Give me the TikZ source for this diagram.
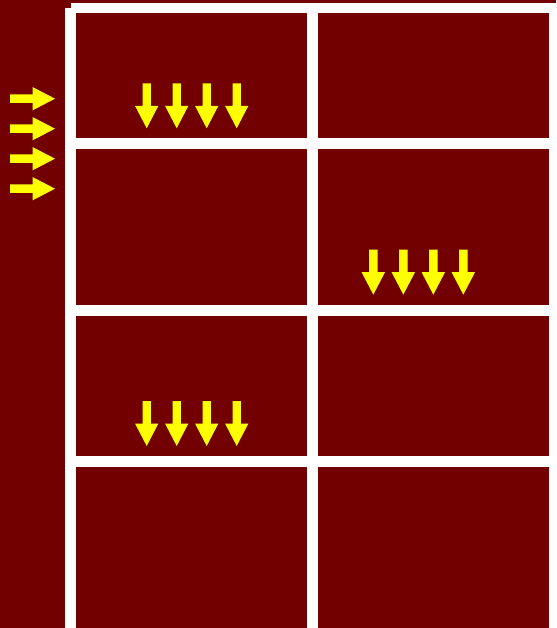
\documentclass[tikz,border=0pt]{standalone}
\definecolor{bgred}{RGB}{115,0,0}
\definecolor{arrowyellow}{RGB}{255,255,0}
\tikzset{
  cellfill/.style={fill=bgred},
  gridline/.style={fill=white},
  arrowshape/.style={fill=arrowyellow},
  downarrow/.pic={
    \fill[arrowshape] (-4.2,-45) -- (4.2,-45) -- (4.2,-22.5) -- (11.7,-22.5) -- (0,0)
      -- (-11.7,-22.5) -- (-4.2,-22.5) -- cycle;
  }
}
\begin{document}
\begin{tikzpicture}[x=1pt,y=-1pt]
\useasboundingbox (0,0) rectangle (556,628);
% background
\fill[cellfill] (0,0) rectangle (556,628);
% white grid region
\fill[gridline] (70.7,3.3) rectangle (556,628);
\fill[gridline] (65.3,8.3) rectangle (76.3,628);
% cells
\foreach \ya/\yb in {13.3/138.3, 149.3/305.3, 316/456, 467.3/629} {
  \fill[cellfill] (76.3,\ya) rectangle (307.3,\yb);
  \fill[cellfill] (318.3,\ya) rectangle (549.3,\yb);
}
% right-pointing arrows in the left strip
\foreach \yc in {98.7,128.7,158.7,188.7}
  \pic[rotate=90] at (55,\yc) {downarrow};
% down-pointing arrows
\foreach \xc in {146.7,176.7,206.7,236.7}
  \pic at (\xc,128.3) {downarrow};
\foreach \xc in {373.3,403.3,433.3,463.3}
  \pic at (\xc,294.7) {downarrow};
\foreach \xc in {146.7,176.7,206.7,236.7}
  \pic at (\xc,446) {downarrow};
\end{tikzpicture}
\end{document}
